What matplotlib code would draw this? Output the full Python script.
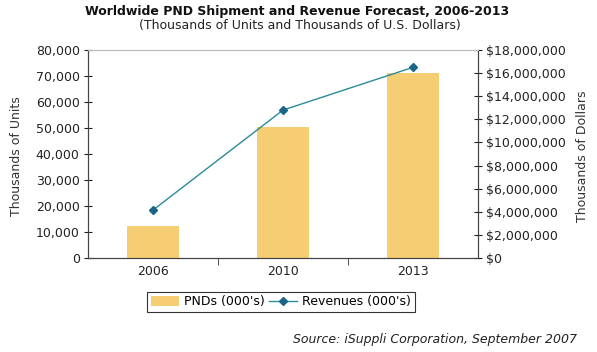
import matplotlib
matplotlib.use("Agg")
import matplotlib.pyplot as plt
from matplotlib.ticker import FuncFormatter, MultipleLocator

years = ["2006", "2010", "2013"]
pnds = [12400, 50300, 71200]
revenues = [4150000, 12800000, 16500000]

plt.rcParams['font.family'] = ['DejaVu Sans']

fig = plt.figure(figsize=(5.97, 3.52), dpi=100)
ax = fig.add_axes([88/597, 1-258/352, 390/597, 208/352])
ax2 = ax.twinx()

x = list(range(len(years)))
bars = ax.bar(x, pnds, width=0.4, color="#F5CD72", label="PNDs (000's)", zorder=2)
ax.set_xlim(-0.5, 2.5)
ax.set_ylim(0, 80000)
ax.yaxis.set_major_locator(MultipleLocator(10000))
ax.yaxis.set_major_formatter(FuncFormatter(lambda v, p: f"{int(v):,}"))
ax.set_xticks(x)
ax.set_xticklabels(years)
ax.tick_params(axis='x', length=0, labelsize=9, pad=5, colors="#222222")
ax.set_xticks([0.5, 1.5], minor=True)
ax.tick_params(axis='x', which='minor', length=5, direction='out', color="#333333")
ax.tick_params(axis='y', direction='inout', length=6, labelsize=9, colors="#222222", pad=3)
ax.set_ylabel("Thousands of Units", fontsize=9, color="#333333")
ax.yaxis.set_label_coords((23-88)/390, 0.49)

line, = ax2.plot(x, revenues, color="#2A8A9C", lw=1, marker="D", ms=4,
                 markerfacecolor="#1A6588", markeredgecolor="#1A6588",
                 label="Revenues (000's)", zorder=3)
ax2.set_ylim(0, 18000000)
ax2.yaxis.set_major_locator(MultipleLocator(2000000))
ax2.yaxis.set_major_formatter(FuncFormatter(lambda v, p: f"${int(v):,}"))
ax2.tick_params(axis='y', direction='inout', length=6, labelsize=9, colors="#222222", pad=3)
ax2.set_ylabel("Thousands of Dollars", fontsize=9, color="#333333")
ax2.yaxis.set_label_coords((576-88)/390, 0.49)

for a in (ax, ax2):
    a.spines['top'].set_color("#BBBBBB")
    a.spines['left'].set_color("#444444")
    a.spines['right'].set_color("#444444")
    a.spines['bottom'].set_color("#444444")

fig.text(297/597, 1-11/352, "Worldwide PND Shipment and Revenue Forecast, 2006-2013",
         ha='center', va='center', fontsize=9, fontweight='bold', color="#111111")
fig.text(300/597, 1-26/352, "(Thousands of Units and Thousands of U.S. Dollars)",
         ha='center', va='center', fontsize=9, color="#222222")

leg = fig.legend([bars, line], ["PNDs (000's)", "Revenues (000's)"],
                 loc='center', bbox_to_anchor=(281/597, 1-302/352), ncol=2,
                 fontsize=9, frameon=True, fancybox=False, edgecolor="#000000",
                 handlelength=2.2, handleheight=0.8, columnspacing=0.4,
                 handletextpad=0.4, borderpad=0.3)
leg.get_frame().set_linewidth(0.8)

fig.text(577/597, 1-339/352, "Source: iSuppli Corporation, September 2007",
         ha='right', va='center', fontsize=9, style='italic', color="#222222")

fig.savefig("out.png", dpi=100)
